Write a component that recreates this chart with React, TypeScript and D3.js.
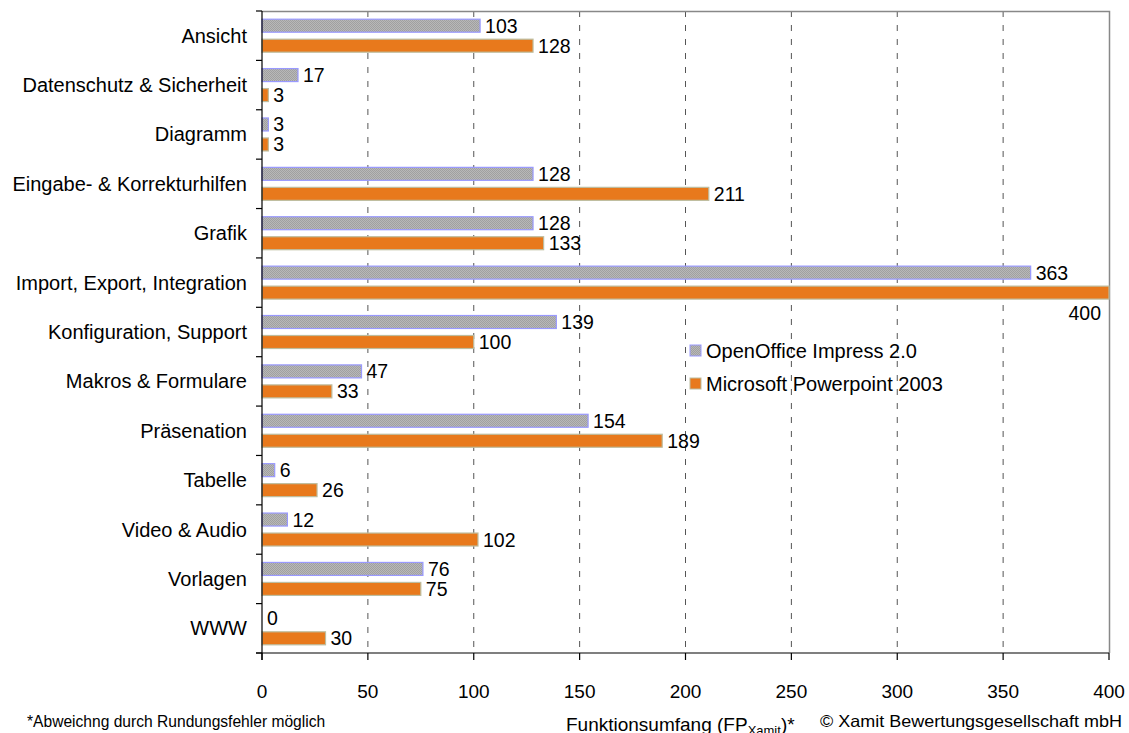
import { useEffect, useRef } from 'react'
import * as d3 from 'd3'

const categories = [
  'Ansicht',
  'Datenschutz & Sicherheit',
  'Diagramm',
  'Eingabe- & Korrekturhilfen',
  'Grafik',
  'Import, Export, Integration',
  'Konfiguration, Support',
  'Makros & Formulare',
  'Präsenation',
  'Tabelle',
  'Video & Audio',
  'Vorlagen',
  'WWW'
]
const seriesNames = ['OpenOffice Impress 2.0', 'Microsoft Powerpoint 2003']
const openOffice = [103, 17, 3, 128, 128, 363, 139, 47, 154, 6, 12, 76, 0]
const powerpoint = [128, 3, 3, 211, 133, 400, 100, 33, 189, 26, 102, 75, 30]
const xTicks = [0, 50, 100, 150, 200, 250, 300, 350, 400]

export default function App() {
  const chartRef = useRef<SVGSVGElement | null>(null)

  useEffect(() => {
    if (!chartRef.current) return
    const svg = d3.select(chartRef.current)
    svg.selectAll('*').remove()

    const width = 1129
    const height = 733
    const margin = { top: 11, right: 20, bottom: 80, left: 262 }
    const font = 'Liberation Sans, Arial, sans-serif'

    svg.attr('width', width).attr('height', height)

    // fine dotted grey pattern for the OpenOffice bars
    const defs = svg.append('defs')
    const pat = defs
      .append('pattern')
      .attr('id', 'ooPattern')
      .attr('width', 2)
      .attr('height', 2)
      .attr('patternUnits', 'userSpaceOnUse')
    pat.append('rect').attr('width', 2).attr('height', 2).attr('fill', '#b8b8b8')
    pat.append('rect').attr('width', 1).attr('height', 1).attr('fill', '#a0a0a0')
    pat.append('rect').attr('x', 1).attr('y', 1).attr('width', 1).attr('height', 1).attr('fill', '#a0a0a0')

    const x = d3.scaleLinear().domain([0, 400]).range([margin.left, 1109])
    const y = d3.scaleBand().domain(categories).range([margin.top, height - margin.bottom])
    const sub = d3.scaleBand().domain(seriesNames).range([0, y.bandwidth()]).paddingInner(0.35).paddingOuter(0.41)

    const plotBottom = height - margin.bottom

    // dashed grid lines
    svg
      .append('g')
      .selectAll('line')
      .data(xTicks.slice(1, -1))
      .enter()
      .append('line')
      .attr('x1', d => x(d))
      .attr('x2', d => x(d))
      .attr('y1', margin.top)
      .attr('y2', plotBottom)
      .attr('stroke', '#555')
      .attr('stroke-width', 1)
      .attr('stroke-dasharray', '6,8')

    // plot border (top + right)
    svg
      .append('path')
      .attr('d', `M${x(0)},${margin.top + 0.5}H${x(400) + 0.5}V${plotBottom}`)
      .attr('fill', 'none')
      .attr('stroke', '#888')
      .attr('stroke-width', 1.5)

    const seriesData = [openOffice, powerpoint]
    const fills = ['url(#ooPattern)', '#e8791c']
    const strokes = ['#9999ff', '#bdbd9f']

    seriesData.forEach((vals, si) => {
      const name = seriesNames[si]
      svg
        .append('g')
        .selectAll('rect')
        .data(vals)
        .enter()
        .append('rect')
        .attr('x', x(0))
        .attr('y', (d, i) => y(categories[i])! + sub(name)!)
        .attr('width', d => x(d) - x(0))
        .attr('height', sub.bandwidth())
        .attr('fill', fills[si])
        .attr('stroke', strokes[si])
        .attr('stroke-width', 1.2)

      // value labels; the one that hits the right edge goes below its bar
      svg
        .append('g')
        .selectAll('text')
        .data(vals)
        .enter()
        .append('text')
        .attr('x', d => (d >= 390 ? x(d) - 8 : x(d) + 5))
        .attr('y', (d, i) => {
          const yc = y(categories[i])! + sub(name)! + sub.bandwidth() / 2
          return d >= 390 ? yc + 20 : yc
        })
        .attr('text-anchor', d => (d >= 390 ? 'end' : 'start'))
        .attr('dominant-baseline', 'central')
        .style('font-family', font)
        .style('font-size', '19.5px')
        .attr('fill', '#000')
        .text(d => d)
    })

    // y axis
    svg
      .append('line')
      .attr('x1', x(0))
      .attr('x2', x(0))
      .attr('y1', margin.top)
      .attr('y2', plotBottom + 7)
      .attr('stroke', '#000')
      .attr('stroke-width', 1.2)

    const boundaries = d3.range(categories.length + 1).map(i => margin.top + i * y.step())
    svg
      .append('g')
      .selectAll('line')
      .data(boundaries)
      .enter()
      .append('line')
      .attr('x1', x(0) - 6)
      .attr('x2', x(0))
      .attr('y1', d => d)
      .attr('y2', d => d)
      .attr('stroke', '#000')
      .attr('stroke-width', 1.2)

    svg
      .append('g')
      .selectAll('text')
      .data(categories)
      .enter()
      .append('text')
      .attr('x', x(0) - 15)
      .attr('y', d => y(d)! + y.bandwidth() / 2)
      .attr('text-anchor', 'end')
      .attr('dominant-baseline', 'central')
      .style('font-family', font)
      .style('font-size', '20px')
      .text(d => d)

    // x axis
    svg
      .append('line')
      .attr('x1', x(0) - 6)
      .attr('x2', x(400))
      .attr('y1', plotBottom)
      .attr('y2', plotBottom)
      .attr('stroke', '#000')
      .attr('stroke-width', 1.2)

    const xt = svg.append('g').selectAll('g').data(xTicks).enter().append('g')
    xt.append('line')
      .attr('x1', d => x(d))
      .attr('x2', d => x(d))
      .attr('y1', plotBottom)
      .attr('y2', plotBottom + 7)
      .attr('stroke', '#000')
      .attr('stroke-width', 1.2)
    xt.append('text')
      .attr('x', d => x(d))
      .attr('y', plotBottom + 38)
      .attr('text-anchor', 'middle')
      .attr('dominant-baseline', 'central')
      .style('font-family', font)
      .style('font-size', '19px')
      .text(d => d)

    // legend
    const legend = svg.append('g').attr('transform', 'translate(690,345)')
    seriesNames.forEach((name, i) => {
      legend
        .append('rect')
        .attr('x', 0)
        .attr('y', i * 33)
        .attr('width', 11)
        .attr('height', 11)
        .attr('fill', fills[i])
        .attr('stroke', strokes[i])
        .attr('stroke-width', 1)
      legend
        .append('text')
        .attr('x', 16)
        .attr('y', i * 33 + 6)
        .attr('dominant-baseline', 'central')
        .style('font-family', font)
        .style('font-size', '20px')
        .text(name)
    })

    // footer texts
    svg
      .append('text')
      .attr('x', 27)
      .attr('y', 727)
      .style('font-family', font)
      .style('font-size', '15.6px')
      .text('*Abweichng durch Rundungsfehler möglich')

    const title = svg
      .append('text')
      .attr('x', 566)
      .attr('y', 731)
      .style('font-family', font)
      .style('font-size', '19px')
    title.append('tspan').text('Funktionsumfang (FP')
    title.append('tspan').attr('dy', 4).style('font-size', '13px').text('Xamit')
    title.append('tspan').attr('dy', -4).text(')*')

    svg
      .append('text')
      .attr('x', 820)
      .attr('y', 727)
      .attr('textLength', 302)
      .attr('lengthAdjust', 'spacingAndGlyphs')
      .style('font-family', font)
      .style('font-size', '16.5px')
      .text('© Xamit Bewertungsgesellschaft mbH')
  }, [])

  return (
    <div style={{ position: 'absolute', left: 0, top: 0, background: '#fff' }}>
      <svg ref={chartRef}></svg>
    </div>
  )
}
